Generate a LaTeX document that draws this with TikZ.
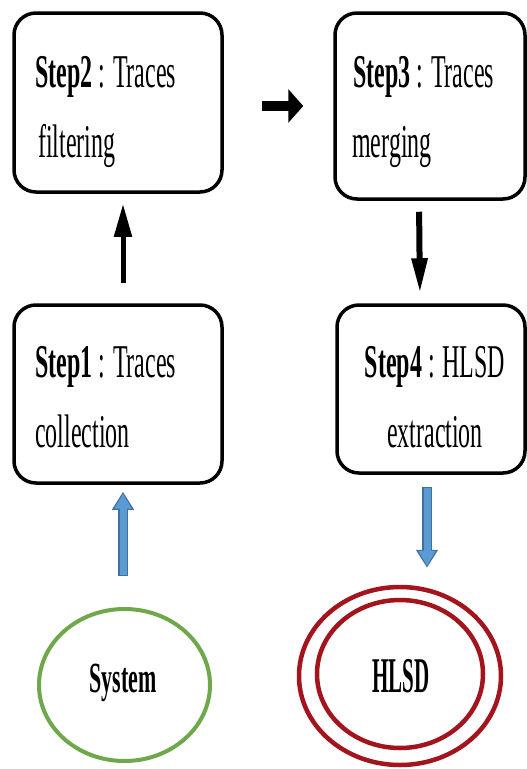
\documentclass[tikz,border=0pt]{standalone}
\usepackage{fontspec}
\setmainfont{Liberation Serif}
\usetikzlibrary{arrows.meta,shapes.geometric}
\definecolor{sysgreen}{HTML}{6EA84A}
\definecolor{hlsdred}{HTML}{A3141D}
\definecolor{flowblue}{HTML}{5B9BD5}
\definecolor{flowedge}{HTML}{41719C}
\newcommand\squeeze[2]{\scalebox{#1}[1]{#2}}

\begin{document}
\begin{tikzpicture}[x=1pt,y=-1pt,
  stepbox/.style={draw=black, line width=3.5pt, rounded corners=22pt,
    inner sep=0pt, shape=rectangle},
  steptext/.style={inner sep=0pt, font=\fontsize{47}{56}\selectfont},
  blackflow/.style={draw=black, line width=#1},
  blueedge/.style={draw=flowedge, line width=10pt,
    -{Triangle[length=18pt,width=21pt]}},
  bluefill/.style={draw=flowblue, line width=7pt,
    -{Triangle[length=15pt,width=16pt]}}
]
% page
\fill[white] (0,0) rectangle (527,769);
\useasboundingbox (0,0) rectangle (527,769);

% step boxes
\node[stepbox, minimum width=208pt, minimum height=179pt] (s2) at (118,102.5) {};
\node[stepbox, minimum width=190pt, minimum height=186pt] (s3) at (430,106) {};
\node[stepbox, minimum width=208pt, minimum height=178pt] (s1) at (118,394) {};
\node[stepbox, minimum width=188pt, minimum height=168pt] (s4) at (431,389) {};

% step labels
\node[steptext, anchor=base west] (s2a) at (35,87) {\squeeze{0.51}{\textbf{Step2} : Traces}};
\node[steptext, anchor=base west] (s2b) at (38,157) {\squeeze{0.51}{filtering}};
\node[steptext, anchor=base west] (s3a) at (353,87) {\squeeze{0.51}{\textbf{Step3} : Traces}};
\node[steptext, anchor=base west] (s3b) at (352,157) {\squeeze{0.51}{merging}};
\node[steptext, anchor=base west] (s1a) at (35,377) {\squeeze{0.51}{\textbf{Step1} : Traces}};
\node[steptext, anchor=base west] (s1b) at (35,447) {\squeeze{0.51}{collection}};
\node[steptext, anchor=base] (s4a) at (435,377) {\squeeze{0.51}{\textbf{Step4} : HLSD}};
\node[steptext, anchor=base] (s4b) at (435,447) {\squeeze{0.51}{extraction}};

% system and result ellipses
\node[ellipse, draw=sysgreen, line width=4pt, inner sep=0pt,
  minimum width=171pt, minimum height=152pt] (sys) at (124.5,685) {};
\node[anchor=base, inner sep=0pt, font=\fontsize{43}{50}\selectfont\bfseries]
  (syst) at (123,692) {\squeeze{0.51}{System}};
\node[ellipse, draw=hlsdred, line width=4.5pt, inner sep=0pt,
  minimum width=202pt, minimum height=178pt] (hlsd) at (400,676) {};
\node[ellipse, draw=hlsdred, line width=4.5pt, inner sep=0pt,
  minimum width=166pt, minimum height=148pt] (hlsdin) at (400,674) {};
\node[anchor=base, inner sep=0pt, font=\fontsize{50}{60}\selectfont\bfseries]
  (hlsdt) at (401,692) {\squeeze{0.42}{HLSD}};

% black flow arrows between steps
\draw[blackflow=5pt, -{Triangle[length=33pt,width=17pt]},
  shorten <=20pt, shorten >=10pt]
  ([xshift=5pt]s1.north) -- ([xshift=5pt]s2.south);
\draw[blackflow=10pt, -{Triangle[length=15pt,width=33pt]},
  shorten <=38pt, shorten >=30pt]
  (s2.east |- s3.west) -- (s3.west);
\draw[blackflow=6pt, -{Triangle[length=35pt,width=15pt]},
  shorten <=11pt, shorten >=10pt]
  ([xshift=-11pt]s3.south) -- ([xshift=-11pt]s4.north);

% blue input / output arrows
\draw[blueedge, shorten <=31pt, shorten >=7pt]
  ([xshift=-1.5pt]sys.north) -- ([xshift=-1.5pt]sys.north |- s1.south);
\draw[bluefill, shorten <=32.5pt, shorten >=8.8pt]
  ([xshift=-1.5pt]sys.north) -- ([xshift=-1.5pt]sys.north |- s1.south);
\draw[blueedge, shorten <=12pt, shorten >=17pt]
  ([xshift=-4pt]s4.south) -- ([xshift=-4pt]s4.south |- hlsd.north);
\draw[bluefill, shorten <=13.5pt, shorten >=18.8pt]
  ([xshift=-4pt]s4.south) -- ([xshift=-4pt]s4.south |- hlsd.north);
\end{tikzpicture}
\end{document}
